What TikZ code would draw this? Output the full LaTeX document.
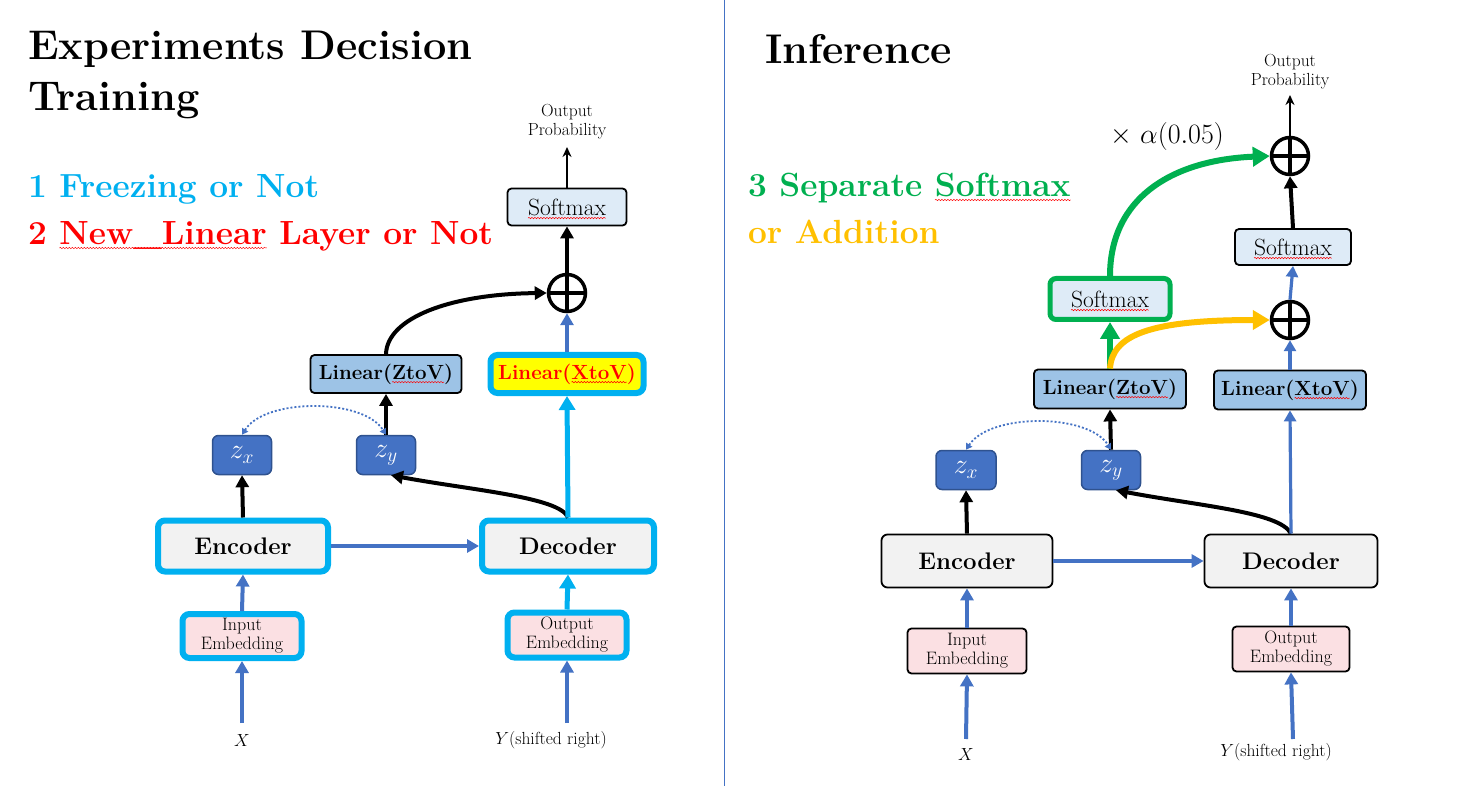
\RequirePackage{fix-cm}
\documentclass[tikz,border=0pt]{standalone}
\usepackage{fontspec}
\usetikzlibrary{arrows.meta,decorations.pathmorphing}
\newsavebox\sqbox
\newlength\sqlen
\newcommand\sq[1]{\sbox\sqbox{#1}\setlength\sqlen{\wd\sqbox}\leavevmode\usebox\sqbox\kern-\sqlen
  \tikz[overlay,baseline=0pt]{\draw[red,line width=0.5pt,sharp corners,solid,decorate,
    decoration={snake,amplitude=0.7pt,segment length=3pt}] (0pt,-3pt) -- (\sqlen,-3pt);}\kern\sqlen}
\newcommand\twol[2]{\begin{tabular}{@{}c@{}}#1\\#2\end{tabular}}
\newcommand\fHead{\fontsize{41.5}{50}\selectfont\bfseries}
\newcommand\fSub{\fontsize{33.5}{40}\selectfont\bfseries}
\newcommand\fAlpha{\fontsize{28}{32}\selectfont}
\newcommand\fSoft{\fontsize{23.5}{27}\selectfont}
\newcommand\fLin{\fontsize{20.5}{24}\selectfont\bfseries}
\newcommand\fEnc{\fontsize{24}{28}\selectfont\bfseries}
\newcommand\fEmb{\fontsize{18}{19.5}\selectfont}
\newcommand\fProb{\fontsize{17.5}{19.5}\selectfont}
\newcommand\fZ{\fontsize{28}{30}\selectfont}
\newcommand\fLab{\fontsize{17.5}{21}\selectfont}
\definecolor{blu}{HTML}{4472C4}
\definecolor{cyn}{HTML}{00B0F0}
\definecolor{zbd}{HTML}{2F528F}
\definecolor{softc}{HTML}{DEEBF7}
\definecolor{linc}{HTML}{9DC3E6}
\definecolor{grayc}{HTML}{F2F2F2}
\definecolor{pinkc}{HTML}{FBE0E3}
\definecolor{grn}{HTML}{00B050}
\definecolor{gld}{HTML}{FFC000}
\definecolor{redc}{HTML}{FF0000}
\definecolor{yel}{HTML}{FFFF00}
\tikzset{
  txt/.style={inner sep=0pt, outer sep=0pt},
  bx/.style={draw=black, line width=1.8pt, rounded corners=4pt, inner sep=0pt},
  cbx/.style={draw=cyn, line width=6pt, rounded corners=7pt, inner sep=0pt},
  gbx/.style={draw=grn, line width=5pt, rounded corners=6pt, inner sep=0pt},
  zbx/.style={draw=zbd, fill=blu, line width=1.5pt, rounded corners=6pt, text=white,
    minimum width=59pt, minimum height=39pt, inner sep=0pt, font=\fZ},
  pls/.style={circle, draw=black, line width=3.5pt, minimum size=37pt, inner sep=0pt,
    path picture={\draw[line width=3.5pt] (path picture bounding box.north) -- (path picture bounding box.south)
      (path picture bounding box.west) -- (path picture bounding box.east);}},
  barr/.style={draw=black, line width=4pt, -{Triangle[length=12pt,width=13pt]}},
  blarr/.style={draw=blu, line width=4pt, -{Triangle[length=12pt,width=13pt]}},
  blarrs/.style={draw=blu, line width=3.2pt, -{Triangle[length=11pt,width=12pt]}},
  cyarr/.style={draw=cyn, line width=5pt, -{Triangle[length=14pt,width=16pt]}},
  garr/.style={draw=grn, line width=6pt, -{Triangle[length=17pt,width=19pt]}},
  yarr/.style={draw=gld, line width=6pt, -{Triangle[length=17pt,width=19pt]}},
  tarr/.style={draw=black, line width=2pt, -{Stealth[length=10pt,width=9pt]}},
  darr/.style={draw=blu, line width=1.8pt, dash pattern=on 2pt off 2pt,
    {Triangle[length=6pt,width=7pt]}-{Triangle[length=6pt,width=7pt]}},
}
\begin{document}
\begin{tikzpicture}[x=1pt,y=-1pt]
\fill[white] (0,0) rectangle (1473,786);
\useasboundingbox (0,0) rectangle (1473,786);
\draw[blu, line width=1pt] (724,0) -- (724,786);

% ---------- headings ----------
\node[txt, anchor=base west, font=\fHead] (t1) at (28,60) {Experiments Decision};
\node[txt, anchor=base west, font=\fHead] (t2) at (28,111) {Training};
\node[txt, anchor=base west, font=\fSub, text=cyn] (q1) at (28,198) {1 Freezing or Not};
\node[txt, anchor=base west, font=\fSub, text=redc] (q2) at (28,245) {2 \sq{New\_Linear} Layer or Not};
\node[txt, anchor=base west, font=\fHead] (t3) at (765,64) {Inference};
\node[txt, anchor=base west, font=\fSub, text=grn] (q3) at (748,197) {3 Separate \sq{Softmax}};
\node[txt, anchor=base west, font=\fSub, text=gld] (q4) at (748,244) {or Addition};
\node[txt, anchor=base west, font=\fAlpha] (al) at (1110,144) {$\times\ \alpha(0.05)$};

% ---------- left: training ----------
\node[txt, font=\fProb] (opL) at (567,122) {\twol{Output}{Probability}};
\coordinate (opLc) at (567,147);
\node[bx, fill=softc, minimum width=119pt, minimum height=37pt, font=\fSoft] (softL) at (567,207) {\sq{Softmax}};
\node[pls] (plusL) at (567,293) {};
\node[bx, fill=linc, minimum width=151pt, minimum height=38pt, font=\fLin] (linZL) at (386,374) {Linear(\sq{ZtoV})};
\node[cbx, fill=yel, minimum width=153pt, minimum height=38pt, font=\fLin, text=redc] (linXL) at (567,374) {Linear(\sq{XtoV})};
\node[zbx] (zxL) at (242,455) {$z_x$};
\node[zbx] (zyL) at (386,455) {$z_y$};
\node[cbx, fill=grayc, minimum width=170pt, minimum height=51pt, font=\fEnc] (encL) at (243,546) {Encoder};
\node[cbx, fill=grayc, minimum width=172pt, minimum height=51pt, font=\fEnc] (decL) at (568,546) {Decoder};
\node[cbx, fill=pinkc, minimum width=119pt, minimum height=44pt, font=\fEmb] (inL) at (242,636) {\twol{Input}{Embedding}};
\node[cbx, fill=pinkc, minimum width=119pt, minimum height=45pt, font=\fEmb] (outL) at (567,635) {\twol{Output}{Embedding}};
\node[txt, font=\fLab] (xL) at (242,741) {$X$};
\node[txt, font=\fLab] (yL) at (551,740) {$Y$(shifted right)};
\coordinate (xinL) at (242,723);
\coordinate (yinL) at (567,723);

\draw[tarr] (softL.north) -- (opLc);
\draw[barr] (plusL.north) -- (softL.south);
\draw[blarr] (linXL.north) -- (plusL.south);
\draw[barr] (linZL.north) .. controls (387,318) and (450,294) .. (plusL.west);
\draw[barr] (zyL.north) -- (linZL.south);
\draw[darr] (zxL.north) .. controls (265,398) and (363,398) .. (zyL.north);
\draw[barr] (encL.north) -- (zxL.south);
\draw[barr] (decL.north) .. controls (560,497) and (470,490) .. ([xshift=5pt]zyL.south);
\draw[cyarr] (decL.north) -- (linXL.south);
\draw[blarr] (encL.east) -- (decL.west);
\draw[blarr] (inL.north) -- (encL.south);
\draw[cyarr] (outL.north) -- (decL.south);
\draw[blarr] (xinL) -- (inL.south);
\draw[blarr] (yinL) -- (outL.south);

% ---------- right: inference ----------
\node[txt, font=\fProb] (opR) at (1290,72) {\twol{Output}{Probability}};
\coordinate (opRc) at (1290,95);
\node[pls] (plusR1) at (1290,156) {};
\node[bx, fill=softc, minimum width=116pt, minimum height=36pt, font=\fSoft] (softR) at (1293,247) {\sq{Softmax}};
\node[pls] (plusR2) at (1290,320) {};
\node[bx, fill=linc, minimum width=152pt, minimum height=39pt, font=\fLin] (linXR) at (1290,390) {Linear(\sq{XtoV})};
\node[gbx, fill=softc, minimum width=120pt, minimum height=41pt, font=\fSoft] (softG) at (1110,299) {\sq{Softmax}};
\node[bx, fill=linc, minimum width=152pt, minimum height=39pt, font=\fLin] (linZR) at (1110,389) {Linear(\sq{ZtoV})};
\node[zbx, minimum width=60pt] (zxR) at (966,470) {$z_x$};
\node[zbx, minimum width=59pt] (zyR) at (1111,470) {$z_y$};
\node[bx, fill=grayc, minimum width=171pt, minimum height=53pt, font=\fEnc, rounded corners=6pt] (encR) at (967,561) {Encoder};
\node[bx, fill=grayc, minimum width=173pt, minimum height=53pt, font=\fEnc, rounded corners=6pt] (decR) at (1291,561) {Decoder};
\node[bx, fill=pinkc, minimum width=119pt, minimum height=45pt, font=\fEmb] (inR) at (967,651) {\twol{Input}{Embedding}};
\node[bx, fill=pinkc, minimum width=117pt, minimum height=45pt, font=\fEmb] (outR) at (1291,649) {\twol{Output}{Embedding}};
\node[txt, font=\fLab] (xR) at (966,755) {$X$};
\node[txt, font=\fLab] (yR) at (1276,752) {$Y$(shifted right)};
\coordinate (xinR) at (966,739);
\coordinate (yinR) at (1293,739);

\draw[tarr] (plusR1.north) -- (opRc);
\draw[barr] (softR.north) -- (plusR1.south);
\draw[blarrs] (plusR2.north) -- (softR.south);
\draw[blarrs] (linXR.north) -- (plusR2.south);
\draw[garr] (linZR.north) -- (softG.south);
\draw[garr] (softG.north) .. controls (1110,198) and (1172,160) .. (plusR1.west);
\draw[yarr] (linZR.north) .. controls (1112,335) and (1150,320) .. (plusR2.west);
\draw[barr] (zyR.north) -- (linZR.south);
\draw[darr] (zxR.north) .. controls (990,413) and (1088,413) .. (zyR.north);
\draw[barr] (encR.north) -- (zxR.south);
\draw[barr] (decR.north) .. controls (1280,512) and (1200,506) .. ([xshift=5pt]zyR.south);
\draw[blarrs] (decR.north) -- (linXR.south);
\draw[blarr] (encR.east) -- (decR.west);
\draw[blarr] (inR.north) -- (encR.south);
\draw[blarr] (outR.north) -- (decR.south);
\draw[blarr] (xinR) -- (inR.south);
\draw[blarr] (yinR) -- (outR.south);
\end{tikzpicture}
\end{document}
